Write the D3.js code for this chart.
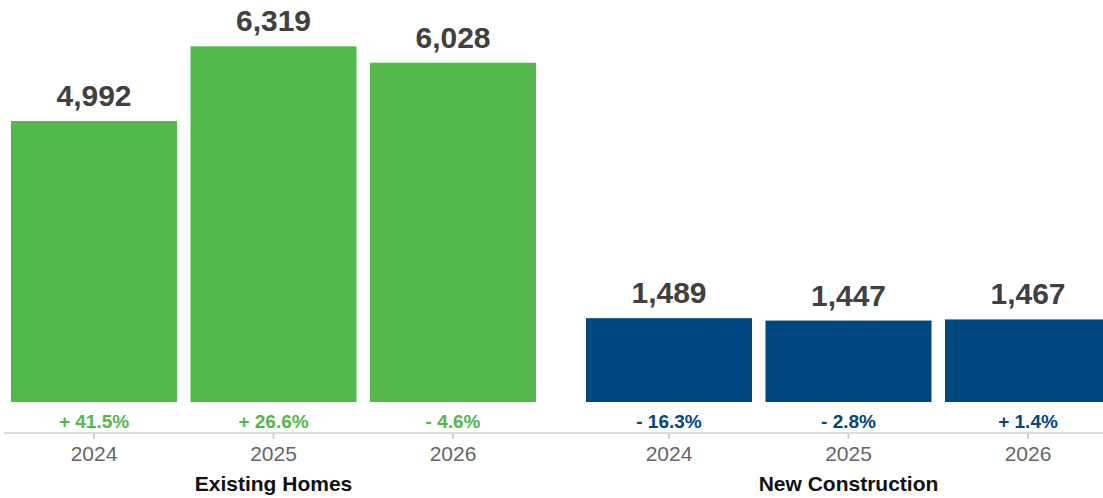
<!DOCTYPE html>
<html>
<head>
<meta charset="utf-8">
<script src="https://cdn.jsdelivr.net/npm/d3@7"></script>
<style>
  html, body { margin: 0; padding: 0; background: #fff; overflow: hidden; }
  svg { display: block; font-family: "Liberation Sans", Arial, Helvetica, sans-serif; }
</style>
</head>
<body>
<svg id="chart" width="1103" height="498"></svg>
<script>
// Home sales forecast: existing homes vs new construction, by year
const groups = ["Existing Homes", "New Construction"];
const years = ["2024", "2025", "2026"];
const existingValues = [4992, 6319, 6028];
const newValues = [1489, 1447, 1467];
const existingChange = ["+ 41.5%", "+ 26.6%", "- 4.6%"];
const newChange = ["- 16.3%", "- 2.8%", "+ 1.4%"];
const groupColors = ["#52b84a", "#00477f"];

const seriesValues = [existingValues, newValues];
const seriesChange = [existingChange, newChange];

const svg = d3.select("#chart");
const baseY = 402;     // bottom of bars
const axisY = 433;     // x-axis line

const y = d3.scaleLinear().domain([0, 7000]).range([baseY, 8]);

const outer = d3.scaleBand().domain(groups).range([11, 1111]).paddingInner(50 / 575).paddingOuter(0);
const inner = d3.scaleBand().domain(years).range([0, outer.bandwidth()]).paddingInner(13.5 / 179.5).paddingOuter(0);

// axis baseline across the full width
svg.append("line")
  .attr("x1", 4).attr("x2", 1103)
  .attr("y1", axisY).attr("y2", axisY)
  .attr("stroke", "#dcdcdc").attr("stroke-width", 2);

groups.forEach((g, gi) => {
  const gx = outer(g);
  const grp = svg.append("g").attr("transform", `translate(${gx},0)`);
  const rows = years.map((yr, i) => ({ year: yr, value: seriesValues[gi][i], change: seriesChange[gi][i] }));

  grp.selectAll("rect.bar").data(rows).join("rect")
    .attr("class", "bar")
    .attr("x", d => inner(d.year))
    .attr("width", inner.bandwidth())
    .attr("y", d => y(d.value))
    .attr("height", d => baseY - y(d.value))
    .attr("fill", groupColors[gi]);

  grp.selectAll("text.value").data(rows).join("text")
    .attr("class", "value")
    .attr("x", d => inner(d.year) + inner.bandwidth() / 2)
    .attr("y", d => y(d.value) - 15)
    .attr("text-anchor", "middle")
    .attr("font-size", 30).attr("font-weight", "bold")
    .attr("fill", "#404040")
    .text(d => d3.format(",")(d.value));

  grp.selectAll("text.change").data(rows).join("text")
    .attr("class", "change")
    .attr("x", d => inner(d.year) + inner.bandwidth() / 2)
    .attr("y", 427.5)
    .attr("text-anchor", "middle")
    .attr("font-size", 19).attr("font-weight", "bold")
    .attr("fill", groupColors[gi])
    .text(d => d.change);

  const axis = grp.append("g")
    .attr("transform", `translate(0,${axisY})`)
    .call(d3.axisBottom(inner).tickSize(6).tickPadding(10));
  axis.select(".domain").remove();
  axis.selectAll(".tick line").attr("stroke", "#d0d0d0").attr("stroke-width", 2).attr("y1", 1);
  axis.selectAll(".tick text")
    .attr("font-family", "Liberation Sans, Arial, sans-serif")
    .attr("font-size", 21).attr("fill", "#666")
    .attr("dy", null).attr("y", 28);

  grp.append("text")
    .attr("x", outer.bandwidth() / 2)
    .attr("y", 491)
    .attr("text-anchor", "middle")
    .attr("font-size", 21).attr("font-weight", "bold")
    .attr("fill", "#111")
    .text(g);
});
</script>
</body>
</html>
